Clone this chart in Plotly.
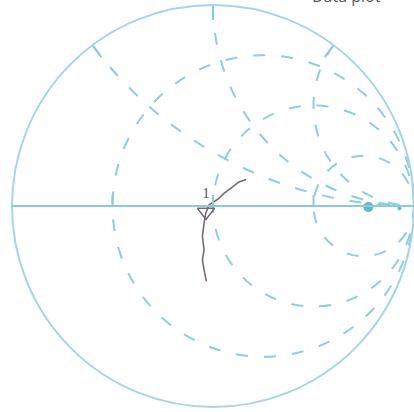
import plotly.graph_objects as go

# Measured impedance trace (normalized)
trace_real = [1.337, 1.254, 1.172, 1.106, 1.058, 1.009, 0.961, 0.928, 0.902, 0.861, 0.835, 0.785, 0.753, 0.711]
trace_imag = [0.369, 0.310, 0.209, 0.140, 0.081, 0.043, 0.010, -0.067, -0.156, -0.269, -0.383, -0.453, -0.532, -0.621]

# Marker 1
marker_real = [0.931]
marker_imag = [-0.055]
marker_label = ["1"]

# Extra points near the open-circuit side
extra_real = [7.8, 26.0]
extra_imag = [-0.19, -4.0]

real_ticks = [1/3, 1, 3]
imag_ticks = [0.5, 1, 2]

grid_col = "#8fcde0"
outer_col = "#a6d6e4"
axis_col = "#8ccad8"

fig = go.Figure()
fig.add_trace(go.Scattersmith(real=trace_real, imag=trace_imag, mode="lines",
                              line=dict(color="#7a6878", width=1.6), showlegend=False))
fig.add_trace(go.Scattersmith(real=marker_real, imag=marker_imag, mode="markers+text",
                              text=marker_label, textposition="top center",
                              textfont=dict(family="Liberation Serif", size=15, color="#555555"),
                              marker=dict(symbol="triangle-down-open", size=15,
                                          color="#7a6878", line=dict(width=1.5)),
                              showlegend=False))
fig.add_trace(go.Scattersmith(real=extra_real, imag=extra_imag, mode="markers",
                              marker=dict(color="#1f9fb0", size=[11, 5]), showlegend=False))

fig.update_layout(
    width=414, height=412,
    margin=dict(l=12, r=0, t=5, b=5),
    paper_bgcolor="white",
    showlegend=False,
    smith=dict(
        bgcolor="white",
        domain=dict(x=[0, 1], y=[0, 1]),
        realaxis=dict(tickvals=real_ticks, showticklabels=False, gridcolor=grid_col,
                      griddash="12px,16px", gridwidth=1.8, linecolor=axis_col, linewidth=2,
                      ticks="top", ticklen=10, tickcolor=axis_col),
        imaginaryaxis=dict(tickvals=imag_ticks, showticklabels=False, gridcolor=grid_col,
                           griddash="12px,16px", gridwidth=1.8, linecolor=outer_col, linewidth=2,
                           ticks="inside", ticklen=14, tickcolor=axis_col),
    ),
    annotations=[dict(text="Data plot", xref="paper", yref="paper", x=0.741, y=1,
                      xanchor="left", yanchor="bottom", yshift=-4, showarrow=False,
                      font=dict(family="Open Sans", size=16, color="#555555"))],
)

fig.write_html("out.html", config={"displayModeBar": False},
               post_script="document.body.style.margin='0';")
